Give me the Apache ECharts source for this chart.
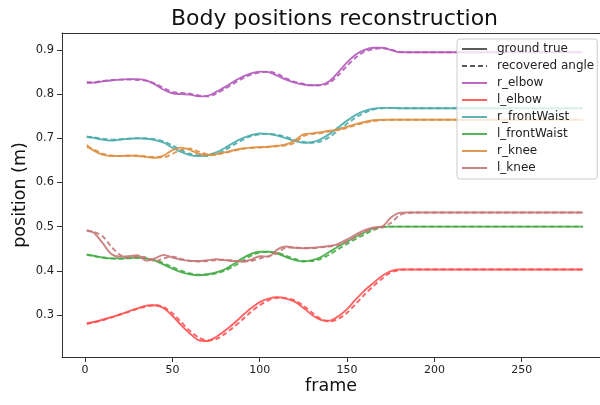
<!DOCTYPE html>
<html>
<head>
<meta charset="utf-8">
<script src="https://cdn.jsdelivr.net/npm/echarts@6/dist/echarts.min.js"></script>
<style>html,body{margin:0;padding:0;background:#fff}#c{width:600px;height:405px}</style>
</head>
<body>
<div id="c"></div>
<script>
const frames = [1,5,10,15,20,25,30,35,40,45,50,55,60,65,70,75,80,85,90,95,100,105,110,115,120,125,130,135,140,145,150,155,160,165,170,175,180,185,190,285];

const rElbowTrue = [.825,.826,.829,.831,.833,.834,.834,.831,.822,.810,.802,.800,.799,.795,.796,.805,.816,.828,.839,.847,.851,.850,.842,.833,.826,.822,.820,.821,.830,.850,.872,.890,.900,.905,.905,.900,.895,.895,.895,.895];
const rElbowRec  = [.827,.827,.830,.832,.833,.833,.832,.830,.824,.814,.805,.803,.801,.797,.795,.801,.812,.824,.835,.844,.849,.851,.846,.836,.828,.823,.820,.820,.826,.843,.864,.883,.896,.902,.904,.901,.896,.895,.895,.895];

const lElbowTrue = [.281,.284,.289,.295,.301,.308,.315,.321,.322,.315,.298,.277,.258,.243,.241,.250,.264,.280,.298,.315,.329,.337,.340,.337,.330,.316,.300,.289,.287,.297,.313,.335,.355,.372,.388,.399,.403,.403,.403,.403];
const lElbowRec  = [.279,.283,.288,.294,.301,.307,.314,.319,.322,.318,.304,.284,.264,.249,.242,.245,.257,.272,.289,.307,.322,.333,.339,.338,.333,.321,.305,.291,.285,.291,.305,.325,.346,.365,.382,.396,.402,.403,.403,.403];

const rWaistTrue = [.704,.701,.697,.695,.697,.699,.700,.699,.696,.690,.679,.669,.662,.660,.662,.668,.678,.690,.700,.707,.711,.710,.706,.700,.694,.690,.691,.698,.710,.725,.740,.753,.762,.767,.769,.769,.768,.768,.768,.768];
const rWaistRec  = [.703,.702,.699,.697,.698,.699,.700,.700,.698,.693,.684,.673,.665,.661,.660,.664,.673,.685,.696,.705,.709,.710,.708,.703,.697,.692,.690,.693,.703,.718,.733,.747,.758,.765,.768,.769,.768,.768,.768,.768];

const lWaistTrue = [.437,.434,.430,.428,.428,.429,.430,.428,.423,.414,.405,.397,.392,.390,.392,.396,.403,.415,.428,.438,.443,.443,.439,.431,.424,.421,.424,.431,.443,.455,.466,.477,.487,.496,.500,.500,.500,.500,.500,.500];
const lWaistRec  = [.436,.433,.430,.428,.427,.428,.429,.428,.424,.417,.408,.400,.394,.391,.391,.394,.400,.410,.422,.434,.441,.443,.441,.434,.427,.422,.422,.427,.437,.449,.461,.472,.482,.492,.498,.500,.500,.500,.500,.500];

const rKneeTrue = [.685,.672,.663,.660,.660,.661,.660,.658,.656,.661,.673,.679,.674,.665,.662,.664,.668,.673,.677,.679,.680,.681,.683,.686,.695,.709,.711,.714,.717,.720,.726,.732,.737,.741,.742,.742,.742,.742,.742,.742];
const rKneeRec  = [.680,.675,.665,.661,.660,.660,.661,.659,.657,.657,.665,.674,.677,.670,.664,.663,.667,.672,.676,.678,.679,.680,.682,.684,.690,.705,.710,.712,.716,.719,.724,.730,.735,.739,.741,.742,.742,.742,.742,.742];

const lKneeTrue = [.492,.486,.463,.438,.432,.433,.435,.423,.428,.436,.430,.425,.422,.422,.424,.426,.424,.422,.421,.425,.433,.432,.448,.455,.452,.451,.452,.454,.456,.461,.471,.482,.492,.498,.500,.520,.531,.532,.532,.532];
const lKneeRec  = [.490,.488,.478,.455,.436,.430,.432,.430,.422,.428,.432,.427,.423,.421,.422,.424,.425,.423,.421,.422,.428,.433,.440,.452,.453,.451,.451,.453,.455,.458,.466,.477,.488,.495,.499,.508,.526,.531,.532,.532];

const xTicks = [0,50,100,150,200,250];
const yTicks = [0.3,0.4,0.5,0.6,0.7,0.8,0.9];

const joints = [
  {name:'r_elbow', color:'#b25bba', t:rElbowTrue, r:rElbowRec},
  {name:'l_elbow', color:'#ff5252', t:lElbowTrue, r:lElbowRec},
  {name:'r_frontWaist', color:'#4aabab', t:rWaistTrue, r:rWaistRec},
  {name:'l_frontWaist', color:'#45ab45', t:lWaistTrue, r:lWaistRec},
  {name:'r_knee', color:'#dd8f42', t:rKneeTrue, r:rKneeRec},
  {name:'l_knee', color:'#c57777', t:lKneeTrue, r:lKneeRec}
];

const font = 'DejaVu Sans';
const axisColor = '#333';
const pairs = v => frames.map((f,i)=>[f,v[i]]);
const series = [
  {name:'ground true', type:'line', data:[], symbol:'none', lineStyle:{color:'#5a5a5a', width:2}, itemStyle:{color:'#5a5a5a'}},
  {name:'recovered angle', type:'line', data:[], symbol:'none', lineStyle:{color:'#5a5a5a', width:2, type:[5,3]}, itemStyle:{color:'#5a5a5a'}}
];
joints.forEach(j=>{
  series.push({name:j.name, type:'line', data:pairs(j.t), symbol:'none', showSymbol:false, smooth:0.3,
    lineStyle:{color:j.color, width:1.9, opacity:0.9}, itemStyle:{color:j.color}, z:2});
  series.push({name:j.name+'_rec', type:'line', data:pairs(j.r), symbol:'none', showSymbol:false, smooth:0.3,
    lineStyle:{color:j.color, width:1.9, type:[5,3], opacity:0.9}, itemStyle:{color:j.color}, z:2});
});

const chart = echarts.init(document.getElementById('c'), null, {renderer:'canvas'});
chart.setOption({
  animation:false,
  backgroundColor:'#fff',
  title:{text:'Body positions reconstruction', left:171, top:8, padding:0,
    textStyle:{fontFamily:font, fontSize:22, fontWeight:'normal', color:'#111'}},
  grid:{left:62, top:33, right:0, height:324, show:false, containLabel:false, outerBoundsMode:'none'},
  legend:{
    data:['ground true','recovered angle'].concat(joints.map(j=>j.name)),
    orient:'vertical', left:457, top:39, padding:[4,3,5,4],
    itemWidth:25, itemHeight:14, itemGap:5,
    itemStyle:{color:'rgba(0,0,0,0)', borderColor:'rgba(0,0,0,0)', borderWidth:0, opacity:0},
    backgroundColor:'rgba(255,255,255,0.8)', borderColor:'#cccccc', borderWidth:1, borderRadius:3,
    textStyle:{fontFamily:font, fontSize:12, color:'#222', padding:[0,0,0,5]},
    selectedMode:false
  },
  xAxis:[{type:'value', min:-13.2, max:294.8, position:'bottom',
    name:'frame', nameLocation:'middle', nameGap:20, nameMoveOverlap:false,
    nameTextStyle:{fontFamily:font, fontSize:17.5, color:'#111'},
    axisLine:{show:true, onZero:false, lineStyle:{color:axisColor}},
    axisTick:{show:true, length:5, customValues:xTicks, lineStyle:{color:axisColor}},
    axisLabel:{customValues:xTicks, margin:8, fontFamily:font, fontSize:11, color:'#222'},
    splitLine:{show:false}},
   {type:'value', min:-13.2, max:294.8, position:'top',
    axisLine:{show:true, onZero:false, lineStyle:{color:axisColor}},
    axisTick:{show:false}, axisLabel:{show:false}, splitLine:{show:false}}],
  yAxis:{type:'value', min:0.2047, max:0.9385,
    name:'position (m)', nameLocation:'middle', nameGap:32.5, nameRotate:90, nameMoveOverlap:false,
    nameTextStyle:{fontFamily:font, fontSize:17.5, color:'#111'},
    axisLine:{show:true, onZero:false, lineStyle:{color:axisColor}},
    axisTick:{show:true, length:5, customValues:yTicks, lineStyle:{color:axisColor}},
    axisLabel:{customValues:yTicks, margin:8, fontFamily:font, fontSize:11.5, color:'#222', formatter:v=>v.toFixed(1)},
    splitLine:{show:false}},
  series:series
});
</script>
</body>
</html>
